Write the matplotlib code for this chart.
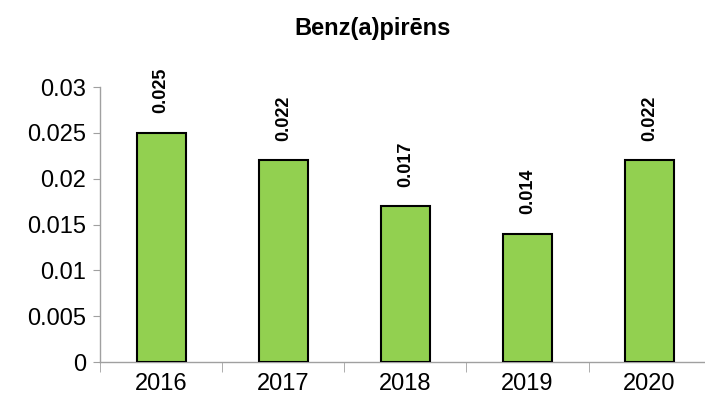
import matplotlib.pyplot as plt
from matplotlib.ticker import FixedLocator

years = ['2016', '2017', '2018', '2019', '2020']
values = [0.025, 0.022, 0.017, 0.014, 0.022]
yticks = [0, 0.005, 0.01, 0.015, 0.02, 0.025, 0.03]
ytick_labels = ['0', '0.005', '0.01', '0.015', '0.02', '0.025', '0.03']

plt.rcParams['font.family'] = ['Liberation Sans', 'DejaVu Sans']

fig = plt.figure(figsize=(7.05, 4.03), dpi=100)
ax = fig.add_axes([0.142, 0.1017, 0.866, 0.6824])

x = range(len(years))
ax.bar(x, values, width=0.4, color='#92D050', edgecolor='black', linewidth=1.5, zorder=3)

for xi, v in zip(x, values):
    ax.annotate(f'{v:g}', (xi, v), xytext=(0, 14), textcoords='offset points',
                rotation=90, ha='center', va='bottom', fontsize=13, fontweight='bold')

ax.set_xlim(-0.5, len(years) - 0.5)
ax.set_ylim(0, 0.03)
ax.set_yticks(yticks)
ax.set_yticklabels(ytick_labels)
ax.set_xticks(list(x))
ax.set_xticklabels(years)
ax.xaxis.set_minor_locator(FixedLocator([i - 0.5 for i in range(len(years) + 1)]))

ax.tick_params(axis='y', labelsize=17, length=5, color='#A0A0A0', pad=5)
ax.tick_params(axis='x', which='major', labelsize=17, length=0, pad=8)
ax.tick_params(axis='x', which='minor', length=7, color='#A0A0A0')

for side in ['top', 'right']:
    ax.spines[side].set_visible(False)
for side in ['left', 'bottom']:
    ax.spines[side].set_color('#A0A0A0')
    ax.spines[side].set_linewidth(1)

fig.text(0.528, 0.93, 'Benz(a)pirēns', ha='center', va='center',
         fontsize=17, fontweight='bold')

fig.savefig('out.png', dpi=100)
